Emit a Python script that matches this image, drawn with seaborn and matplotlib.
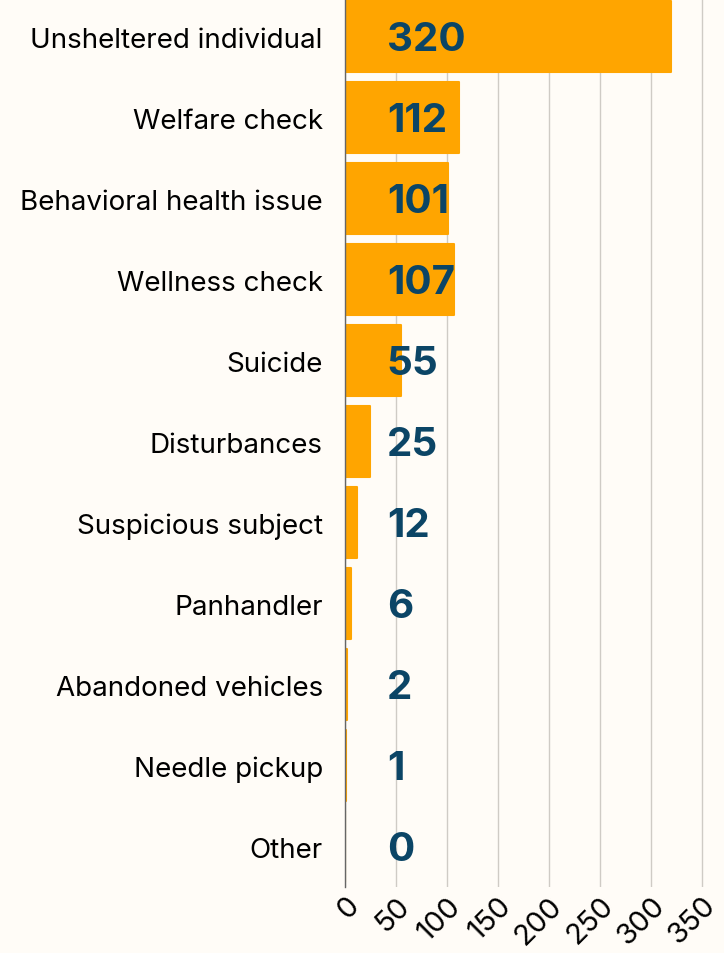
import matplotlib
matplotlib.use("Agg")
import matplotlib.pyplot as plt
import seaborn as sns
import pandas as pd

categories = [
    "Unsheltered individual", "Welfare check", "Behavioral health issue",
    "Wellness check", "Suicide", "Disturbances", "Suspicious subject",
    "Panhandler", "Abandoned vehicles", "Needle pickup", "Other",
]
counts = [320, 112, 101, 107, 55, 25, 12, 6, 2, 1, 0]
x_ticks = [0, 50, 100, 150, 200, 250, 300, 350]

bg = "#FFFCF7"
bar_color = "#FFA500"
label_color = "#0B4566"

sns.set_theme(style="whitegrid")
plt.rcParams["font.family"] = ["Inter", "DejaVu Sans"]

df = pd.DataFrame({"category": categories, "count": counts})

fig = plt.figure(figsize=(7.24, 9.54), dpi=100, facecolor=bg)
ax = fig.add_axes([0.4765, 0.069, 0.5235, 0.934])
ax.set_facecolor(bg)

sns.barplot(data=df, x="count", y="category", color=bar_color, width=0.875,
            saturation=1, ax=ax, edgecolor=bar_color, linewidth=1.5)
for p in ax.patches:
    p.set_joinstyle("round")

for i, v in enumerate(counts):
    ax.text(41, i + 0.03, str(v), color=label_color, fontsize=29, fontweight="bold",
            va="center", ha="left")

ax.set_xlim(0, 372)
ax.set_ylim(10.5, -0.5)
ax.set_xticks(x_ticks)
ax.set_xticklabels([str(t) for t in x_ticks], rotation=45, ha="right",
                   rotation_mode="anchor", fontsize=21, color="black")
ax.tick_params(axis="x", pad=3, length=0)
ax.tick_params(axis="y", labelsize=20, labelcolor="black", length=0, pad=16)
ax.set_xlabel("")
ax.set_ylabel("")
ax.grid(axis="y", visible=False)
ax.grid(axis="x", color="#CFCBC5", linewidth=1)
for s in ["top", "right", "bottom"]:
    ax.spines[s].set_visible(False)
ax.spines["left"].set_color("#666666")
ax.spines["left"].set_linewidth(1)

fig.savefig("out.png", dpi=100, facecolor=bg)
